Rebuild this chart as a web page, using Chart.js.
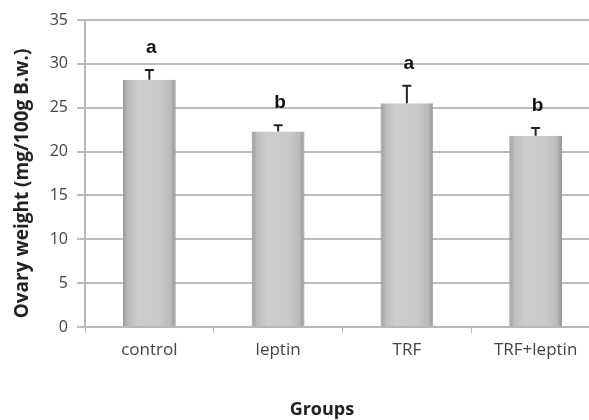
<!DOCTYPE html>
<html>
<head>
<meta charset="utf-8">
<script src="https://cdn.jsdelivr.net/npm/chart.js@4"></script>
<style>
html,body{margin:0;padding:0;background:#fff;overflow:hidden;width:589px;height:420px;}
#wrap{width:600px;height:420px;position:relative;}
</style>
</head>
<body>
<div id="wrap"><canvas id="c" width="600" height="420"></canvas></div>
<script>
const categories = ["control", "leptin", "TRF", "TRF+leptin"];
const meanValues = [28.2, 22.3, 25.5, 21.8];
const errorValues = [1.1, 0.7, 2.0, 0.9];
const letters = ["a", "b", "a", "b"];
const yTicks = [0, 5, 10, 15, 20, 25, 30, 35];
const yTitle = "Ovary weight (mg/100g B.w.)";
const xTitle = "Groups";

const fontFam = "'Open Sans', 'DejaVu Sans', sans-serif";

const extras = {
  id: 'extras',
  afterDatasetsDraw(chart) {
    const ctx = chart.ctx;
    const meta = chart.getDatasetMeta(0);
    const y = chart.scales.y;
    ctx.save();
    meta.data.forEach((bar, i) => {
      const top = y.getPixelForValue(meanValues[i]);
      const cap = y.getPixelForValue(meanValues[i] + errorValues[i]);
      ctx.strokeStyle = '#222';
      ctx.lineWidth = 2;
      ctx.beginPath();
      ctx.moveTo(bar.x, top);
      ctx.lineTo(bar.x, cap);
      ctx.moveTo(bar.x - 4.5, cap);
      ctx.lineTo(bar.x + 4.5, cap);
      ctx.stroke();
      ctx.fillStyle = '#111';
      ctx.font = "bold 19px 'Liberation Sans', Arial, sans-serif";
      ctx.textAlign = 'center';
      ctx.textBaseline = 'middle';
      ctx.fillText(letters[i], bar.x + 2, cap - 22);
    });
    const ca = chart.chartArea;
    ctx.fillStyle = '#222';
    ctx.font = "bold 18px " + fontFam;
    ctx.textAlign = 'center';
    ctx.textBaseline = 'middle';
    ctx.fillText(xTitle, ca.left + (ca.right - ca.left) * 0.46, 410);
    // y title
    ctx.translate(23, (ca.top + ca.bottom) / 2 + 10);
    ctx.rotate(-Math.PI / 2);
    ctx.font = "bold 19px " + fontFam;
    ctx.fillText(yTitle, 0, 0);
    ctx.restore();
  }
};

function barFill(context) {
  const chart = context.chart;
  const xs = chart.scales && chart.scales.x;
  if (!xs || !chart.chartArea) return '#c8c8c8';
  const cx = xs.getPixelForValue(context.dataIndex);
  const w = xs.width / categories.length * 0.41;
  if (!isFinite(cx) || !isFinite(w) || w <= 0) return '#c8c8c8';
  const g = chart.ctx.createLinearGradient(cx - w / 2, 0, cx + w / 2, 0);
  g.addColorStop(0, '#999999');
  g.addColorStop(0.1, '#bdbdbd');
  g.addColorStop(0.3, '#cdcdcd');
  g.addColorStop(0.7, '#c9c9c9');
  g.addColorStop(0.9, '#bababa');
  g.addColorStop(1, '#949494');
  return g;
}

new Chart(document.getElementById('c'), {
  type: 'bar',
  data: {
    labels: categories,
    datasets: [{
      data: meanValues,
      backgroundColor: barFill,
      borderColor: '#9c9c9c',
      borderWidth: {left: 1, right: 1, top: 0, bottom: 0},
      barPercentage: 0.41,
      categoryPercentage: 1.0
    }]
  },
  options: {
    responsive: false,
    animation: false,
    devicePixelRatio: 1,
    layout: {padding: {top: 20, right: 0, left: 0, bottom: 0}},
    plugins: {legend: {display: false}, tooltip: {enabled: false}},
    scales: {
      x: {
        grid: {drawOnChartArea: false, color: '#b8b8b8', lineWidth: 1, tickLength: 6, offset: true},
        border: {color: '#b8b8b8', width: 2},
        ticks: {color: '#444', font: {family: fontFam, size: 17}, padding: 7},
        afterFit(s) { s.height = 93; }
      },
      y: {
        min: 0, max: 35,
        afterBuildTicks(s) { s.ticks = yTicks.map(v => ({value: v})); },
        grid: {color: '#bcbcbc', lineWidth: 2, tickLength: 8},
        border: {color: '#b8b8b8', width: 2},
        ticks: {color: '#444', font: {family: fontFam, size: 16}, padding: 9},
        afterFit(s) { s.width = 85; }
      }
    }
  },
  plugins: [extras]
});
</script>
</body>
</html>
